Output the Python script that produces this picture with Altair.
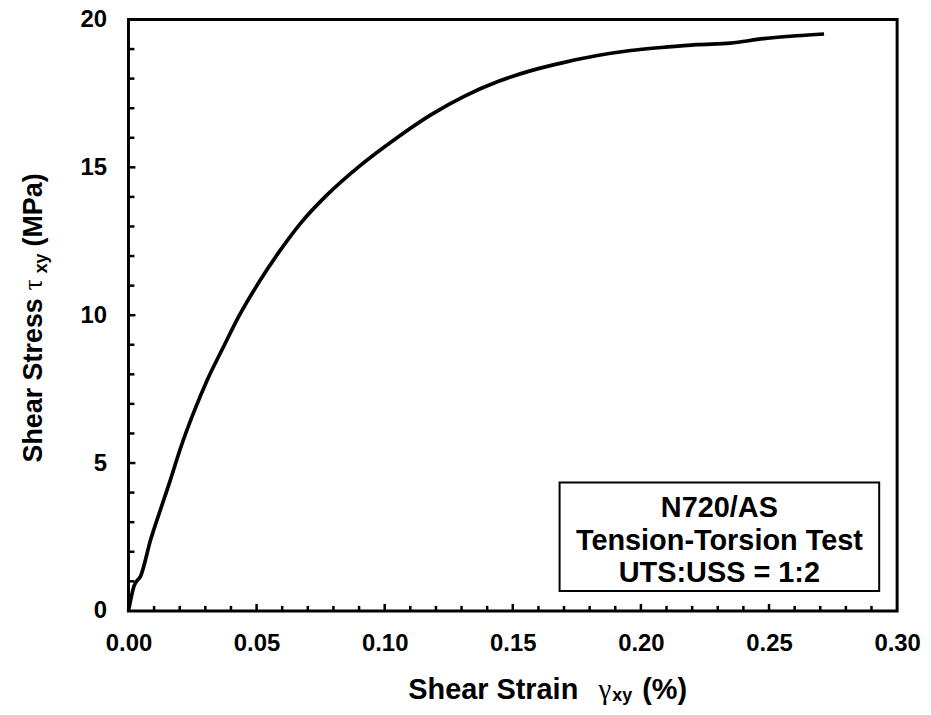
import altair as alt
import pandas as pd

# ---- data ----
strain = [0.0, 0.0022, 0.0048, 0.0087, 0.0125, 0.0164, 0.0203, 0.0255, 0.0307, 0.0372,
          0.0430, 0.0514, 0.0592, 0.0670, 0.0773, 0.0903, 0.1040, 0.1183, 0.1312,
          0.1442, 0.1571, 0.1701, 0.1830, 0.1960, 0.2090, 0.2219, 0.2349, 0.2478, 0.2608, 0.2715]
stress = [0.0, 0.85, 1.19, 2.42, 3.43, 4.44, 5.50, 6.72, 7.80, 8.95,
          9.95, 11.18, 12.19, 13.09, 14.05, 15.05, 15.95, 16.79, 17.41,
          17.90, 18.27, 18.55, 18.78, 18.95, 19.06, 19.15, 19.20, 19.35, 19.45, 19.51]

x_ticks = [0.0, 0.05, 0.10, 0.15, 0.20, 0.25, 0.30]
y_ticks = [0, 5, 10, 15, 20]
x_minor = [0.01, 0.02, 0.03, 0.04, 0.06, 0.07, 0.08, 0.09, 0.11, 0.12, 0.13, 0.14,
           0.16, 0.17, 0.18, 0.19, 0.21, 0.22, 0.23, 0.24, 0.26, 0.27, 0.28, 0.29]
x_major_inner = [0.05, 0.10, 0.15, 0.20, 0.25]
y_minor = [1, 2, 3, 4, 6, 7, 8, 9, 11, 12, 13, 14, 16, 17, 18, 19]
y_major_inner = [5, 10, 15]

legend_lines = ["N720/AS", "Tension-Torsion Test", "UTS:USS = 1:2"]

W, H = 772, 594
FONT = "Liberation Sans"

df = pd.DataFrame({"strain": strain, "stress": stress})

xscale = alt.Scale(domain=[0, 0.30], nice=False, zero=False)
yscale = alt.Scale(domain=[0, 20], nice=False, zero=False)

line = alt.Chart(df).mark_line(color="black", strokeWidth=3.7, interpolate="monotone").encode(
    x=alt.X("strain:Q", scale=xscale,
            axis=alt.Axis(values=x_ticks, format=".2f", title=None, domain=False,
                          ticks=False, grid=False, labelFont=FONT, labelFontSize=24,
                          labelFontWeight="bold", labelColor="black", labelPadding=21,
                          labelFlush=False)),
    y=alt.Y("stress:Q", scale=yscale,
            axis=alt.Axis(values=y_ticks, format="d", title=None, domain=False,
                          ticks=False, grid=False, labelFont=FONT, labelFontSize=24,
                          labelFontWeight="bold", labelColor="black", labelPadding=22,
                          labelFlush=False)),
)

# inside ticks
xmin_df = pd.DataFrame({"v": x_minor})
xmaj_df = pd.DataFrame({"v": x_major_inner})
ymin_df = pd.DataFrame({"v": y_minor})
ymaj_df = pd.DataFrame({"v": y_major_inner})

xt_minor = alt.Chart(xmin_df).mark_rule(color="black", strokeWidth=2.5).encode(
    x=alt.X("v:Q", scale=xscale), y=alt.value(H), y2=alt.value(H - 5))
xt_major = alt.Chart(xmaj_df).mark_rule(color="black", strokeWidth=2.5).encode(
    x=alt.X("v:Q", scale=xscale), y=alt.value(H), y2=alt.value(H - 7))
yt_minor = alt.Chart(ymin_df).mark_rule(color="black", strokeWidth=2.5).encode(
    y=alt.Y("v:Q", scale=yscale), x=alt.value(0), x2=alt.value(6))
yt_major = alt.Chart(ymaj_df).mark_rule(color="black", strokeWidth=2.5).encode(
    y=alt.Y("v:Q", scale=yscale), x=alt.value(0), x2=alt.value(7))

one = pd.DataFrame({"a": [0]})


def txt(text, x, y, size=28, weight="bold", font=FONT, align="left", angle=0):
    kw = dict(text=text, font=font, fontSize=size, fontWeight=weight, color="black",
              align=align, baseline="alphabetic")
    if angle:
        kw["angle"] = angle
    return alt.Chart(one).mark_text(**kw).encode(x=alt.value(x), y=alt.value(y))


# x-axis title: Shear Strain  γxy (%)
xt1 = txt("Shear Strain", 281, 682, size=29)
xt2 = txt("γ", 472, 682, size=29, weight="normal", font="Liberation Serif")
xt3 = txt("xy", 486, 685, size=18)
xt4 = txt("(%)", 516, 682, size=29)

# y-axis title: Shear Stress τxy (MPa)
yt1 = txt("Shear Stress", -87, 445, size=27, angle=270)
yt2 = txt("τ", -87, 272, size=27, weight="normal", font="Liberation Serif", angle=270)
yt3 = txt("xy", -82, 255, size=18, angle=270)
yt4 = txt("(MPa)", -87, 228, size=27, angle=270)

# annotation box
box = alt.Chart(one).mark_rect(fill="white", stroke="black", strokeWidth=2).encode(
    x=alt.value(433), x2=alt.value(754), y=alt.value(465), y2=alt.value(574))
bx = (433 + 754) / 2
lt1 = txt(legend_lines[0], bx, 500, size=29, align="center")
lt2 = txt(legend_lines[1], bx, 533, size=29, align="center")
lt3 = txt(legend_lines[2], bx, 565, size=29, align="center")

chart = alt.layer(
    xt_minor, xt_major, yt_minor, yt_major, line, box, lt1, lt2, lt3,
    xt1, xt2, xt3, xt4, yt1, yt2, yt3, yt4,
).properties(
    width=W, height=H,
    background="white",
    autosize=alt.AutoSizeParams(type="none"),
    padding={"left": 121, "top": 10, "right": 26, "bottom": 95},
).configure_view(
    stroke="black", strokeWidth=3
)

chart.save("out.html", embed_options={"renderer": "svg", "actions": False})
